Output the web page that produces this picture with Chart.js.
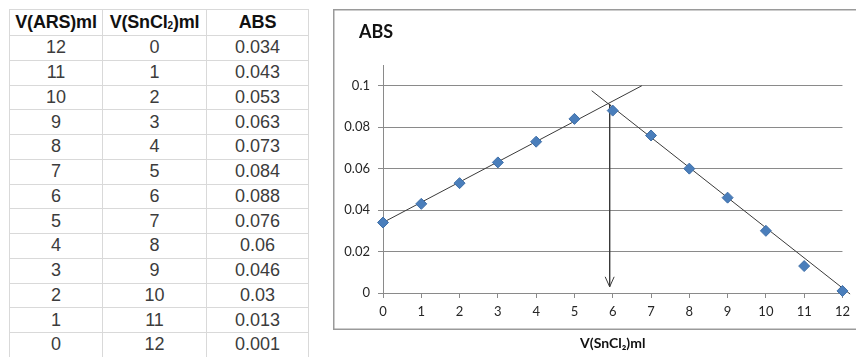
<!DOCTYPE html>
<html>
<head>
<meta charset="utf-8">
<title>ABS - V(SnCl2)ml</title>
<script src="https://cdn.jsdelivr.net/npm/chart.js@4.4.1/dist/chart.umd.min.js"></script>
<style>
    html, body { margin: 0; padding: 0; background: #fff; }
    body { width: 856px; height: 357px; position: relative; overflow: hidden; }
    #data-table {
        position: absolute; left: 9px; top: 9px;
        border-collapse: collapse;
        font-family: "Liberation Sans", Arial, sans-serif;
        font-size: 18px; color: #3c3c3c;
    }
    #data-table th, #data-table td { border: 1px solid #d9d9d9; text-align: center; padding: 0; }
    #data-table th { color: #111; font-weight: bold; letter-spacing: -0.2px; }
    #data-table tr.head { height: 26px; }
    #data-table tr.row { height: 24.75px; }
    #data-table sub { font-size: 10px; vertical-align: -1px; }
    #chart-box { position: absolute; left: 333px; top: 9px; width: 523px; height: 348px; }
</style>
</head>
<body>

<table id="data-table">
    <thead>
        <tr class="head">
            <th style="width:92px">V(ARS)ml</th>
            <th style="width:103px">V(SnCl<sub>2</sub>)ml</th>
            <th style="width:101px">ABS</th>
        </tr>
    </thead>
    <tbody></tbody>
</table>

<div id="chart-box"><canvas id="abs-chart" width="523" height="348"></canvas></div>

<script>
    var arsVolume = [12, 11, 10, 9, 8, 7, 6, 5, 4, 3, 2, 1, 0];
    var sncl2Volume = [0, 1, 2, 3, 4, 5, 6, 7, 8, 9, 10, 11, 12];
    var absValues = [0.034, 0.043, 0.053, 0.063, 0.073, 0.084, 0.088, 0.076, 0.06, 0.046, 0.03, 0.013, 0.001];

    // Hand drawn lines on the chart (estimated ends)
    var risingLineX = [0, 6.76];
    var risingLineY = [0.034, 0.1];
    var fallingLineX = [5.45, 12.2];
    var fallingLineY = [0.0976, -0.0005];
    var arrowX = [5.92, 5.92];
    var arrowY = [0.0912, 0.003];

    // Axis ticks
    var yTicks = [0, 0.02, 0.04, 0.06, 0.08, 0.1];
    var xTicks = [0, 1, 2, 3, 4, 5, 6, 7, 8, 9, 10, 11, 12];


    // Table
    var tbody = document.querySelector('#data-table tbody');
    arsVolume.forEach(function (v, i) {
        var tr = document.createElement('tr');
        tr.className = 'row';
        [v, sncl2Volume[i], absValues[i]].forEach(function (cell) {
            var td = document.createElement('td');
            td.textContent = String(cell);
            tr.appendChild(td);
        });
        tbody.appendChild(tr);
    });


    function toPoints(xs, ys) {
        return xs.map(function (x, i) { return {x: x, y: ys[i]}; });
    }

    var gridGrey = '#8a8a8a';
    var lineGrey = '#3a3a3a';

    // Frame round the chart, title shift and open arrow head
    var chartExtras = {
        id: 'chartExtras',
        afterLayout: function (chart) {
            // Excel puts the title a little right of the axis labels
            chart.titleBlock.left = chart.chartArea.left - 24;
        },
        beforeDraw: function (chart) {
            var ctx = chart.ctx;
            ctx.save();
            ctx.strokeStyle = '#9a9a9a';
            ctx.lineWidth = 1.5;
            ctx.strokeRect(0.75, 0.75, chart.width + 10, 319.5);
            ctx.restore();
        },
        afterDatasetsDraw: function (chart) {
            var meta = chart.getDatasetMeta(3);
            var tip = meta.data[meta.data.length - 1];
            var ctx = chart.ctx;
            ctx.save();
            ctx.strokeStyle = lineGrey;
            ctx.lineWidth = 1;
            ctx.beginPath();
            ctx.moveTo(tip.x - 4.5, tip.y - 10);
            ctx.lineTo(tip.x, tip.y);
            ctx.lineTo(tip.x + 4.5, tip.y - 10);
            ctx.stroke();
            ctx.restore();
        }
    };

    Chart.defaults.font.family = 'Lato, "Open Sans", sans-serif';
    Chart.defaults.color = '#262626';

    var ctx = document.getElementById('abs-chart').getContext('2d');
    var absChart = new Chart(ctx, {
        type: 'scatter',
        data: {
            datasets: [
                {
                    label: 'ABS',
                    data: toPoints(sncl2Volume, absValues),
                    pointStyle: 'rectRot',
                    pointRadius: 5.5,
                    pointHoverRadius: 5.5,
                    backgroundColor: '#4a7ebb',
                    borderColor: '#3f6fa8',
                    borderWidth: 1,
                    showLine: false,
                    clip: false,
                    order: 1
                },
                {
                    data: toPoints(risingLineX, risingLineY),
                    showLine: true,
                    borderColor: lineGrey,
                    borderWidth: 1,
                    pointRadius: 0,
                    order: 2
                },
                {
                    data: toPoints(fallingLineX, fallingLineY),
                    showLine: true,
                    borderColor: lineGrey,
                    borderWidth: 1,
                    pointRadius: 0,
                    clip: false,
                    order: 2
                },
                {
                    data: toPoints(arrowX, arrowY),
                    showLine: true,
                    borderColor: lineGrey,
                    borderWidth: 1,
                    pointRadius: 0,
                    order: 2
                }
            ]
        },
        options: {
            responsive: false,
            animation: false,
            layout: {
                padding: {left: 8, right: 11, top: 0, bottom: 0}
            },
            plugins: {
                legend: {display: false},
                tooltip: {enabled: false},
                title: {
                    display: true,
                    text: 'ABS',
                    align: 'start',
                    color: '#111',
                    font: {size: 18, weight: 'bold'},
                    padding: {top: 12, bottom: 22.4}
                }
            },
            scales: {
                x: {
                    type: 'linear',
                    min: 0,
                    max: 12,
                    afterBuildTicks: function (scale) {
                        scale.ticks = xTicks.map(function (v) { return {value: v}; });
                    },
                    afterFit: function (scale) { scale.height = 64; },
                    ticks: {padding: 6, font: {size: 13}},
                    grid: {drawOnChartArea: false, tickLength: 5, color: gridGrey},
                    border: {color: gridGrey},
                    title: {
                        display: true,
                        text: 'V(SnCl₂)ml',
                        color: '#111',
                        font: {size: 14, weight: 'bold'},
                        padding: {top: 4, bottom: 5}
                    }
                },
                y: {
                    min: 0,
                    max: 0.11,
                    afterBuildTicks: function (scale) {
                        scale.ticks = yTicks.map(function (v) { return {value: v}; });
                    },
                    afterFit: function (scale) { scale.width = 42; },
                    ticks: {
                        padding: 8,
                        font: {size: 13},
                        callback: function (v) { return String(+v.toFixed(3)); }
                    },
                    grid: {tickLength: 5, color: gridGrey},
                    border: {color: gridGrey}
                }
            }
        },
        plugins: [chartExtras]
    });
</script>
</body>
</html>
